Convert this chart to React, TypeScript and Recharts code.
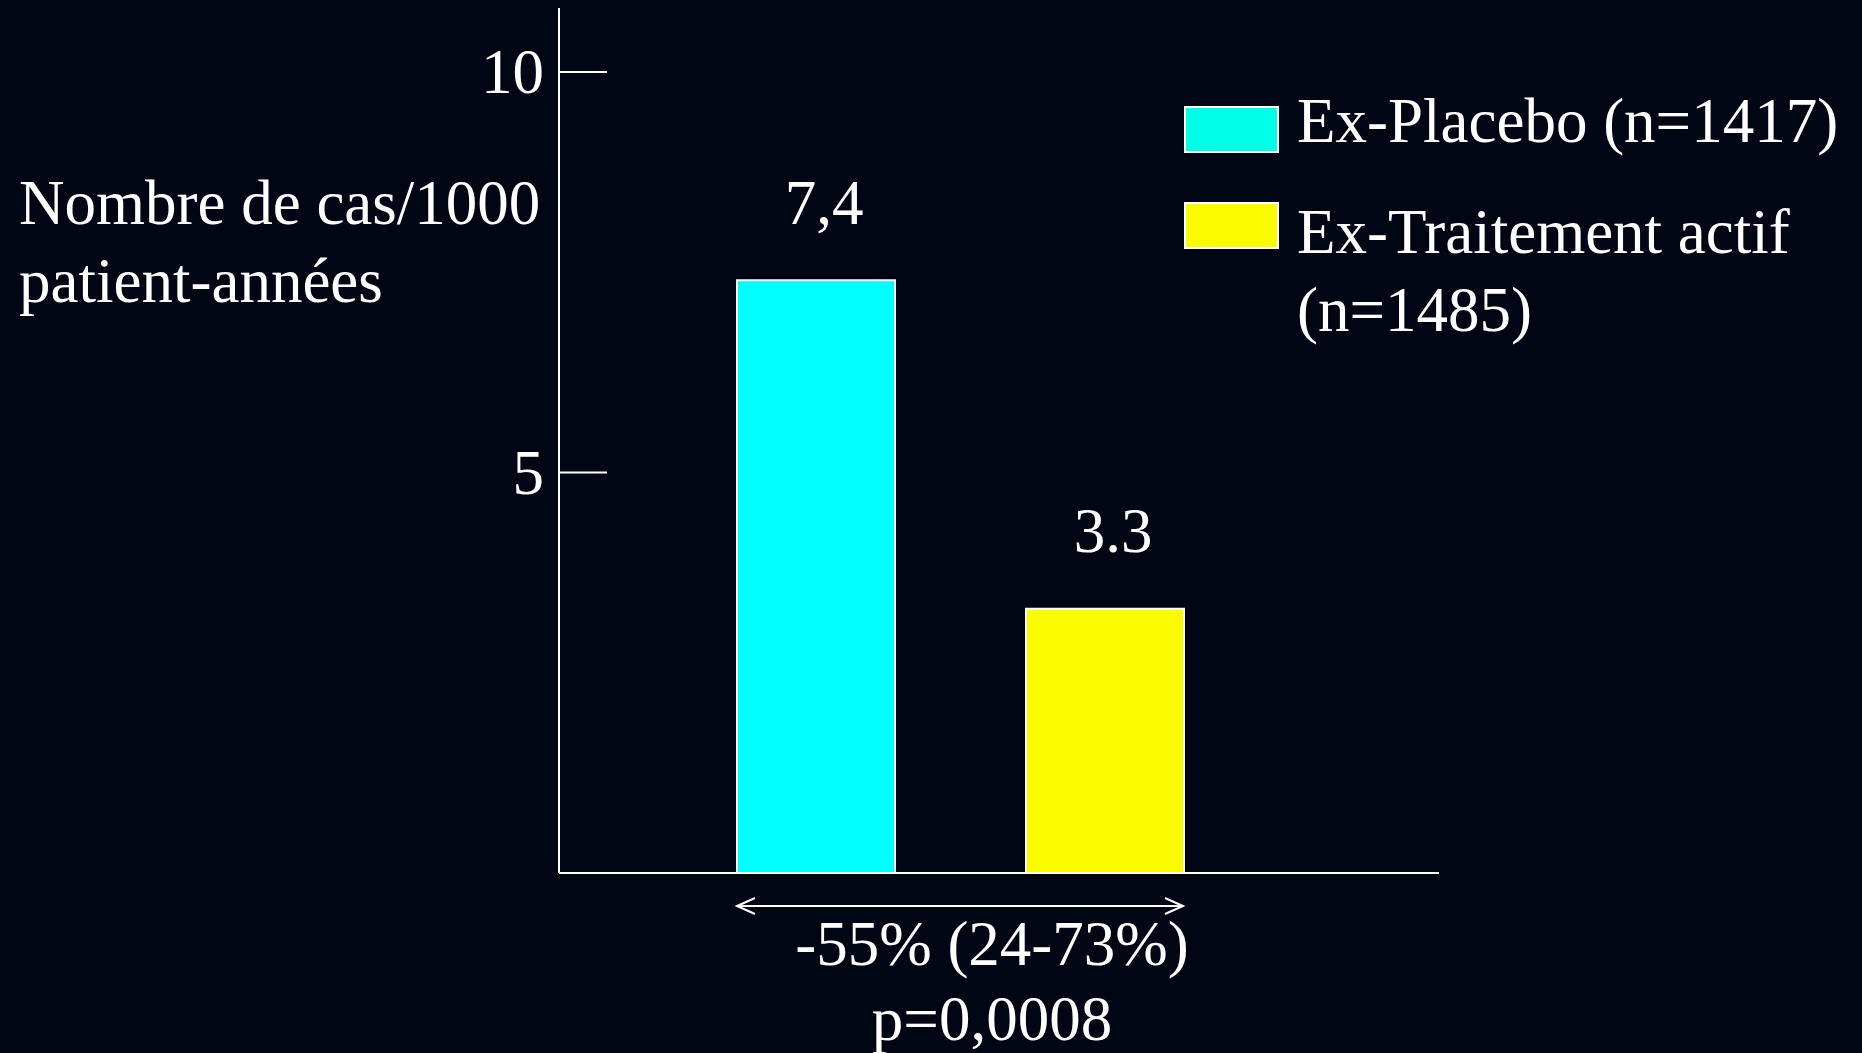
import { Bar, BarChart, Cell, LabelList, XAxis, YAxis } from "recharts";

const categories = ["Ex-Placebo", "Ex-Traitement actif"];
const values = [7.4, 3.3];
const valueLabels = ["7,4", "3.3"];
const legendLines = [["Ex-Placebo (n=1417)"], ["Ex-Traitement actif", "(n=1485)"]];
const barColors = ["#00ffff", "#fafa00"];
const legendColors = ["#00ffe6", "#fafa00"];
const yTicks = [5, 10];
const yTitle = ["Nombre de cas/1000", "patient-années"];
const diffLines = ["-55% (24-73%)", "p=0,0008"];

const data = categories.map((name, i) => ({ name, value: values[i], label: valueLabels[i] }));

const BG = "#010614";
const FONT = '"Liberation Serif", "Times New Roman", serif';
const FS = 63;

// legend rows: swatch top and text top for each entry
const legendSwatchTop = [106, 202];
const legendTextTop = [82, 193];

function YTick(props: any) {
  const { x, y, payload } = props;
  return (
    <g>
      <line x1={x} x2={x + 48} y1={y} y2={y} stroke="#fff" strokeWidth={2} />
      <text x={x - 15} y={y} dy="0.34em" textAnchor="end" fill="#fff" fontSize={FS} fontFamily={FONT}>
        {payload.value}
      </text>
    </g>
  );
}

function ValueLabel(props: any) {
  const { x, y, width, index } = props;
  return (
    <text x={x + width / 2 + 8} y={y - 78} dy="0.34em" textAnchor="middle" fill="#fff" fontSize={FS} fontFamily={FONT}>
      {valueLabels[index]}
    </text>
  );
}

function LegendBox() {
  return (
    <div style={{ position: "absolute", left: 1184, top: 0, fontFamily: FONT, fontSize: FS, color: "#fff", lineHeight: "78px" }}>
      {legendLines.map((lines, i) => (
        <div key={i}>
          <div
            style={{
              position: "absolute",
              left: 0,
              top: legendSwatchTop[i],
              width: 91,
              height: 43,
              background: legendColors[i],
              border: "2px solid #fff",
            }}
          />
          <div style={{ position: "absolute", left: 113, top: legendTextTop[i], whiteSpace: "nowrap" }}>
            {lines.map((l) => (
              <div key={l}>{l}</div>
            ))}
          </div>
        </div>
      ))}
    </div>
  );
}

export default function App() {
  return (
    <div style={{ position: "absolute", left: 0, top: 0, width: 1862, height: 1053, background: BG, overflow: "hidden" }}>
      <BarChart
        width={1862}
        height={1053}
        data={data}
        margin={{ top: 8, right: 423, bottom: 179, left: 499 }}
      >
        <XAxis
          dataKey="name"
          tick={false}
          tickLine={false}
          axisLine={{ stroke: "#fff", strokeWidth: 2 }}
          padding={{ left: 112, right: 190 }}
          height={1}
        />
        <YAxis
          width={60}
          domain={[0, 10.8]}
          ticks={yTicks}
          tick={<YTick />}
          tickSize={0}
          tickMargin={0}
          tickLine={false}
          axisLine={{ stroke: "#fff", strokeWidth: 2 }}
        />
        <Bar dataKey="value" barSize={158} stroke="#fff" strokeWidth={2} isAnimationActive={false}>
          {data.map((d, i) => (
            <Cell key={d.name} fill={barColors[i]} />
          ))}
          <LabelList dataKey="label" content={<ValueLabel />} />
        </Bar>
      </BarChart>

      <LegendBox />

      <div
        style={{
          position: "absolute",
          left: 19,
          top: 164,
          fontFamily: FONT,
          fontSize: FS,
          lineHeight: "78px",
          color: "#fff",
          whiteSpace: "nowrap",
        }}
      >
        {yTitle.map((l) => (
          <div key={l}>{l}</div>
        ))}
      </div>

      <svg style={{ position: "absolute", left: 0, top: 0 }} width={1862} height={1053}>
        <g stroke="#fff" strokeWidth={2} fill="none">
          <line x1={737} x2={1183} y1={906} y2={906} />
          <polyline points="755,898 737,906 755,914" />
          <polyline points="1165,898 1183,906 1165,914" />
        </g>
      </svg>

      <div
        style={{
          position: "absolute",
          left: 692,
          width: 600,
          top: 907,
          textAlign: "center",
          fontFamily: FONT,
          fontSize: FS,
          lineHeight: "75px",
          color: "#fff",
          whiteSpace: "nowrap",
        }}
      >
        {diffLines.map((l) => (
          <div key={l}>{l}</div>
        ))}
      </div>
    </div>
  );
}
